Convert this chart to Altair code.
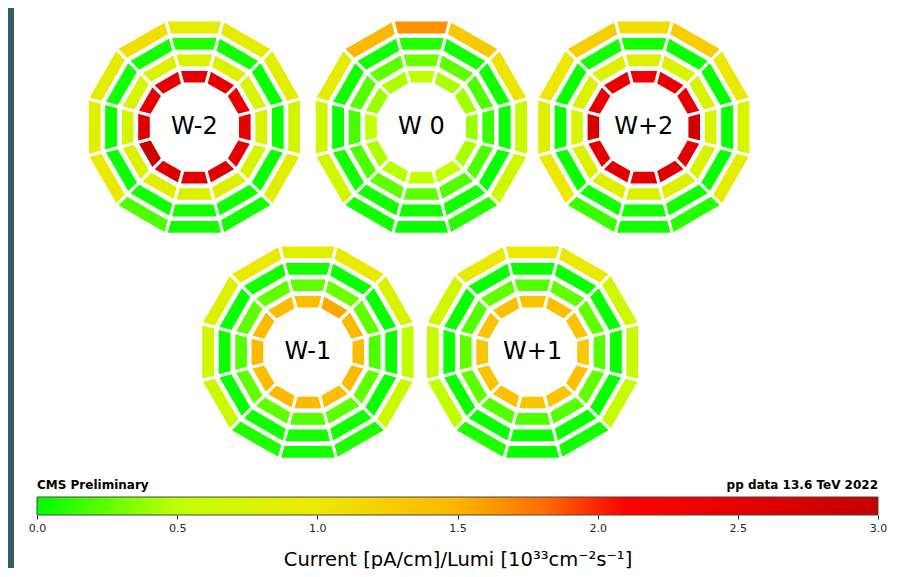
import math
import altair as alt
import pandas as pd

# ---------------- data ----------------
WHEELS = ["W-2", "W 0", "W+2", "W-1", "W+1"]
STATIONS = ["MB1", "MB2", "MB3", "MB4"]  # inner -> outer
# 12 sectors per station, listed clockwise starting from the top sector
VALUES = {
    "W-2": {
        "MB1": [2.5, 2.45, 2.4, 2.5, 2.55, 2.6, 2.55, 2.6, 2.9, 2.6, 2.45, 2.5],
        "MB2": [0.78, 0.8, 0.75, 0.78, 0.75, 0.8, 0.82, 0.88, 0.8, 0.72, 0.75, 0.82],
        "MB3": [0.1, 0.05, 0.02, 0.02, 0.03, 0.05, 0.05, 0.05, 0.03, 0.02, 0.05, 0.05],
        "MB4": [0.9, 0.92, 0.9, 0.72, 0.88, 0.05, 0.05, 0.2, 0.95, 0.85, 0.9, 1.1],
    },
    "W 0": {
        "MB1": [0.5, 0.45, 0.42, 0.4, 0.45, 0.5, 0.5, 0.48, 0.45, 0.5, 0.4, 0.45],
        "MB2": [0.28, 0.25, 0.2, 0.15, 0.2, 0.22, 0.25, 0.25, 0.2, 0.18, 0.22, 0.25],
        "MB3": [0.1, 0.05, 0.05, 0.03, 0.03, 0.05, 0.05, 0.05, 0.05, 0.03, 0.05, 0.05],
        "MB4": [1.65, 1.3, 1.05, 0.6, 0.65, 0.1, 0.03, 0.05, 0.7, 0.65, 0.9, 1.45],
    },
    "W+2": {
        "MB1": [2.3, 2.45, 2.55, 2.8, 2.5, 2.6, 2.5, 2.55, 2.5, 2.75, 2.45, 2.5],
        "MB2": [0.8, 0.78, 0.75, 0.75, 0.78, 0.8, 0.8, 0.85, 0.8, 0.75, 0.78, 0.8],
        "MB3": [0.05, 0.03, 0.02, 0.02, 0.03, 0.05, 0.05, 0.05, 0.03, 0.02, 0.03, 0.05],
        "MB4": [1.1, 1.25, 1.0, 0.75, 0.92, 0.1, 0.05, 0.15, 1.0, 0.85, 1.0, 1.25],
    },
    "W-1": {
        "MB1": [1.42, 1.55, 1.45, 1.42, 1.45, 1.42, 1.45, 1.45, 1.42, 1.45, 1.42, 1.42],
        "MB2": [0.25, 0.28, 0.25, 0.2, 0.25, 0.25, 0.22, 0.25, 0.25, 0.22, 0.25, 0.25],
        "MB3": [0.05, 0.03, 0.03, 0.03, 0.03, 0.05, 0.05, 0.05, 0.03, 0.03, 0.03, 0.05],
        "MB4": [0.88, 0.95, 0.78, 0.5, 0.6, 0.08, 0.05, 0.08, 0.6, 0.7, 0.8, 0.98],
    },
    "W+1": {
        "MB1": [1.35, 1.4, 1.35, 1.3, 1.38, 1.35, 1.35, 1.38, 1.35, 1.32, 1.35, 1.38],
        "MB2": [0.22, 0.25, 0.25, 0.22, 0.25, 0.22, 0.2, 0.22, 0.25, 0.25, 0.22, 0.25],
        "MB3": [0.03, 0.03, 0.03, 0.03, 0.03, 0.03, 0.03, 0.03, 0.03, 0.03, 0.03, 0.03],
        "MB4": [1.0, 0.95, 0.65, 0.6, 0.55, 0.05, 0.03, 0.08, 0.5, 0.6, 0.7, 0.95],
    },
}

TICKS = [0.0, 0.5, 1.0, 1.5, 2.0, 2.5, 3.0]
CBAR = [0.0, 3.0]
CMAP_DOMAIN = [0.0, 0.5, 1.0, 1.5, 1.8, 2.1, 3.0]
CMAP_RANGE = ["#00ff00", "#c0ff00", "#ede800", "#ffb400", "#ff7000", "#ff0000", "#c40000"]

LEFT_TEXT = "CMS Preliminary"
RIGHT_TEXT = "pp data 13.6 TeV 2022"
AXIS_TITLE = "Current [pA/cm]/Lumi [10³³cm⁻²s⁻¹]"

# ---------------- layout / style ----------------
GRID = {"W-2": (0, 0), "W 0": (1, 0), "W+2": (2, 0), "W-1": (0.5, 1), "W+1": (1.5, 1)}
R_IN = [44.6, 61.0, 77.4, 93.8]
R_OUT = [56.2, 72.6, 89.2, 105.6]
GAP = 3.2
STRIP = "#325d6a"
FONT = "DejaVu Sans"

t15 = math.tan(math.radians(15))
c15 = math.cos(math.radians(15))


def trapezoid(ri, ro):
    hi = ri * t15 - GAP / (2 * c15)
    ho = ro * t15 - GAP / (2 * c15)
    return (f"M{-ho:.2f},{-ro:.2f}L{ho:.2f},{-ro:.2f}"
            f"L{hi:.2f},{-ri:.2f}L{-hi:.2f},{-ri:.2f}Z")


PATHS = [trapezoid(ri, ro) for ri, ro in zip(R_IN, R_OUT)]

rows = []
for w in WHEELS:
    col, row = GRID[w]
    for st in STATIONS:
        for k, v in enumerate(VALUES[w][st]):
            rows.append({"wheel": w, "station": st, "sector": k + 1,
                         "rot": 30 * k, "value": v, "col": col, "row": row})
df = pd.DataFrame(rows)
wheel_df = pd.DataFrame({"wheel": WHEELS,
                         "col": [GRID[w][0] for w in WHEELS],
                         "row": [GRID[w][1] for w in WHEELS]})

color_scale = alt.Scale(domain=CMAP_DOMAIN, range=CMAP_RANGE, interpolate="rgb")
x_enc = alt.X("col:Q", scale=alt.Scale(domain=[0, 1, 2], range=[157.4, 384.4, 606.8],
                                       nice=False, zero=False), axis=None)
y_enc = alt.Y("row:Q", scale=alt.Scale(domain=[0, 1], range=[119.2, 344.1],
                                       nice=False, zero=False), axis=None)

strip = alt.Chart(pd.DataFrame({"a": [0]})).mark_rect(color=STRIP).encode(
    x=alt.value(-29), x2=alt.value(-23), y=alt.value(0), y2=alt.value(560))

sectors = alt.Chart(df).mark_point(filled=True, size=4, opacity=1, strokeWidth=0).encode(
    x=x_enc, y=y_enc,
    shape=alt.Shape("station:N", scale=alt.Scale(domain=STATIONS, range=PATHS), legend=None),
    angle=alt.Angle("rot:Q", scale=None),
    color=alt.Color("value:Q", scale=color_scale, legend=None),
    tooltip=["wheel", "station", "sector", "value"],
)

labels = alt.Chart(wheel_df).mark_text(font=FONT, fontSize=24, color="black",
                                       baseline="middle", align="center").encode(
    x=x_enc, y=y_enc, text="wheel:N")

top = alt.layer(strip, sectors, labels).properties(width=841, height=470)

# ---------------- colour bar ----------------
cb_df = pd.DataFrame({"lo": [CBAR[0]], "hi": [CBAR[1]]})
span = CBAR[1] - CBAR[0]
gradient = alt.LinearGradient(
    gradient="linear",
    stops=[alt.GradientStop(color=c, offset=(d - CBAR[0]) / span)
           for d, c in zip(CMAP_DOMAIN, CMAP_RANGE)],
    x1=0, x2=1, y1=0, y2=0)

cx = alt.X("lo:Q", scale=alt.Scale(domain=CBAR, nice=False, zero=False),
           axis=alt.Axis(values=TICKS, format=".1f", domain=False, grid=False,
                         tickColor="#222222", tickSize=4, tickWidth=1,
                         labelFont=FONT, labelFontSize=11, labelColor="#262626",
                         labelPadding=3, labelFlush=False,
                         title=AXIS_TITLE, titleFont=FONT, titleFontSize=19.5,
                         titleFontWeight="normal", titleColor="black", titlePadding=17))

bar = alt.Chart(cb_df).mark_rect(fill=gradient, stroke="#444444", strokeWidth=1).encode(
    x=cx, x2="hi:Q")

ltxt = alt.Chart(cb_df).mark_text(text=LEFT_TEXT, font=FONT, fontWeight="bold",
                                  fontSize=12, align="left", baseline="alphabetic",
                                  color="black").encode(x="lo:Q", y=alt.value(-8))
rtxt = alt.Chart(cb_df).mark_text(text=RIGHT_TEXT, font=FONT, fontWeight="bold",
                                  fontSize=12, align="right", baseline="alphabetic",
                                  color="black").encode(x="hi:Q", y=alt.value(-8))

cbar = alt.layer(bar, ltxt, rtxt).properties(width=841, height=18)

chart = alt.vconcat(top, cbar, spacing=19, bounds="flush").properties(
    padding={"left": 0, "top": 0, "right": 0, "bottom": 0}
).configure_view(strokeWidth=0)

chart.save("out.html", embed_options={"renderer": "svg", "actions": False})
